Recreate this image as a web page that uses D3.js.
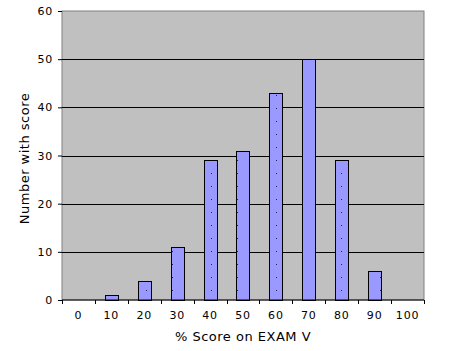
<!DOCTYPE html>
<html lang="en">
<head>
  <meta charset="UTF-8">
  <title>Score distribution</title>
  <script src="https://d3js.org/d3.v7.min.js"></script>
  <style>
    body { margin: 0; background: #fff; }
    text { font-family: "DejaVu Sans", sans-serif; font-size: 11px; fill: #000; }
    .tick text, .xlab { letter-spacing: 0.8px; }
    .title { font-size: 13px; letter-spacing: 0.5px; }
  </style>
</head>
<body>
  <svg id="chart"></svg>
  <script>
    // Data
    const scores = ["0", "10", "20", "30", "40", "50", "60", "70", "80", "90", "100"];
    const counts = [0, 1, 4, 11, 29, 31, 43, 50, 29, 6, 0];
    const yTicks = [0, 10, 20, 30, 40, 50, 60];

    const W = 449, H = 351;
    const margin = { top: 11, right: 25, bottom: 51, left: 62 };
    const width = W - margin.left - margin.right;
    const height = H - margin.top - margin.bottom;

    const root = d3.select("#chart").attr("width", W).attr("height", H);

    // dotted fill inside the bars
    const defs = root.append("defs");
    const pat = defs.append("pattern")
      .attr("id", "dots")
      .attr("patternUnits", "userSpaceOnUse")
      .attr("width", 13).attr("height", 13);
    pat.append("rect").attr("width", 13).attr("height", 13).attr("fill", "#9999ff");
    pat.append("rect").attr("x", 6).attr("y", 6).attr("width", 1).attr("height", 1).attr("fill", "#222255");

    const svg = root.append("g").attr("transform", `translate(${margin.left},${margin.top})`);

    const x = d3.scaleBand().domain(scores).range([0, width]).paddingInner(0.6).paddingOuter(0.3);
    const xb = d3.scaleBand().domain(scores).range([0, width]);
    const y = d3.scaleLinear().domain([0, 60]).range([height, 0]);

    // plot background
    svg.append("rect")
      .attr("width", width).attr("height", height)
      .attr("fill", "#c0c0c0").attr("stroke", "#808080");

    // gridlines
    svg.selectAll("line.grid")
      .data(yTicks.slice(1, -1))
      .enter().append("line")
      .attr("x1", 0).attr("x2", width)
      .attr("y1", d => Math.round(y(d)) + 0.5).attr("y2", d => Math.round(y(d)) + 0.5)
      .attr("stroke", "#000");

    // bars
    svg.selectAll("rect.bar")
      .data(counts)
      .enter().append("rect")
      .attr("class", "bar")
      .attr("x", (d, i) => Math.round(x(scores[i])) + 0.5)
      .attr("y", d => Math.round(y(d)) + 0.5)
      .attr("width", Math.round(x.bandwidth()))
      .attr("height", d => Math.round(height - y(d)))
      .attr("fill", "url(#dots)")
      .attr("stroke", "#000")
      .style("display", d => d > 0 ? null : "none");

    // y axis
    const yAxis = svg.append("g")
      .call(d3.axisLeft(y).tickValues(yTicks).tickSize(4).tickPadding(5));
    yAxis.select(".domain").remove();
    yAxis.selectAll("line").attr("stroke", "#000");
    yAxis.selectAll("text").style("font-size", "11px").style("font-family", "DejaVu Sans");

    // x axis: ticks at category boundaries
    const xAxis = svg.append("g").attr("transform", `translate(0,${height})`);
    xAxis.append("line").attr("x1", 0).attr("x2", width).attr("stroke", "#000");
    xAxis.selectAll("line.tk")
      .data(d3.range(scores.length + 1))
      .enter().append("line")
      .attr("x1", i => Math.round(i * xb.step()) + 0.5)
      .attr("x2", i => Math.round(i * xb.step()) + 0.5)
      .attr("y1", 0).attr("y2", 4)
      .attr("stroke", "#000");
    xAxis.selectAll("text")
      .data(scores)
      .enter().append("text")
      .attr("class", "xlab")
      .attr("x", d => xb(d) + xb.bandwidth() / 2)
      .attr("y", 19)
      .attr("text-anchor", "middle")
      .text(d => d);

    // axis titles
    svg.append("text")
      .attr("class", "title")
      .attr("x", width / 2)
      .attr("y", height + 41)
      .attr("text-anchor", "middle")
      .text("% Score on EXAM V");

    svg.append("text")
      .attr("class", "title")
      .attr("transform", "rotate(-90)")
      .attr("x", -height / 2 - 3)
      .attr("y", -33)
      .attr("text-anchor", "middle")
      .text("Number with score");
  </script>
</body>
</html>
